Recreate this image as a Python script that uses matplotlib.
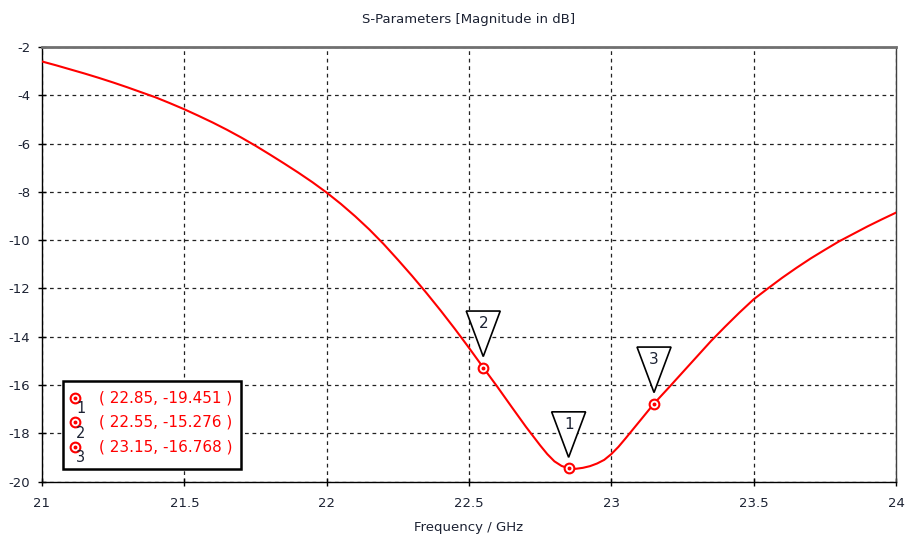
import numpy as np
import matplotlib
matplotlib.use("Agg")
import matplotlib.pyplot as plt
import matplotlib.transforms as mtransforms
from matplotlib.patches import Polygon, Rectangle

# S11 magnitude (dB); 50 MHz steps, 25 MHz around the dip
freq_ghz = [21.00, 21.05, 21.10, 21.15, 21.20, 21.25, 21.30, 21.35, 21.40, 21.45,
            21.50, 21.55, 21.60, 21.65, 21.70, 21.75, 21.80, 21.85, 21.90, 21.95,
            22.00, 22.05, 22.10, 22.15, 22.20, 22.25, 22.30, 22.35, 22.40, 22.45,
            22.50, 22.55, 22.60, 22.65, 22.70, 22.75, 22.775, 22.80, 22.825, 22.85,
            22.875, 22.90, 22.925, 22.95, 22.975, 23.00, 23.025, 23.05, 23.10, 23.15,
            23.20, 23.25, 23.30, 23.35, 23.40, 23.45, 23.50, 23.55, 23.60, 23.65,
            23.70, 23.75, 23.80, 23.85, 23.90, 23.95, 24.00]
s11_db = [-2.60, -2.76, -2.93, -3.10, -3.28, -3.47, -3.67, -3.88, -4.09, -4.33,
          -4.58, -4.85, -5.13, -5.43, -5.75, -6.09, -6.45, -6.82, -7.20, -7.60,
          -8.03, -8.50, -9.01, -9.56, -10.16, -10.81, -11.48, -12.18, -12.91, -13.67,
          -14.46, -15.276, -16.08, -16.91, -17.73, -18.50, -18.86, -19.16, -19.35, -19.451,
          -19.47, -19.43, -19.36, -19.25, -19.10, -18.86, -18.56, -18.21, -17.49, -16.768,
          -16.13, -15.48, -14.83, -14.18, -13.58, -13.00, -12.45, -12.00, -11.56, -11.15,
          -10.76, -10.40, -10.05, -9.74, -9.43, -9.14, -8.86]

# markers
mark_id = [1, 2, 3]
mark_f = [22.85, 22.55, 23.15]
mark_db = [-19.451, -15.276, -16.768]

xticks = [21, 21.5, 22, 22.5, 23, 23.5, 24]
yticks = [-20, -18, -16, -14, -12, -10, -8, -6, -4, -2]

RED = "#ff0000"
TXT = "#1c2233"

plt.rcParams["font.family"] = ["DejaVu Sans"]
plt.rcParams["axes.unicode_minus"] = False

W, H = 906, 542
fig = plt.figure(figsize=(W / 100, H / 100), dpi=100)
L, R, T, B = 42, 896, 47, 481.6
ax = fig.add_axes([L / W, 1 - B / H, (R - L) / W, (B - T) / H])


def px2ax(px, py):
    return (px - L) / (R - L), (B - py) / (B - T)


ax.plot(freq_ghz, s11_db, color=RED, lw=1.5, zorder=3)
ax.set_xlim(21, 24)
ax.set_ylim(-20, -2)
ax.set_xticks(xticks)
ax.set_xticklabels([f"{t:g}" for t in xticks])
ax.set_yticks(yticks)
ax.grid(True, color="#222222", ls=(0, (3, 3)), lw=0.9)
ax.tick_params(direction="inout", length=6, width=1, labelsize=9.5, colors="black",
               labelcolor=TXT, pad=8)
ax.tick_params(axis="y", pad=5.5)
for s in ["left", "bottom"]:
    ax.spines[s].set_color("black")
    ax.spines[s].set_linewidth(1)
ax.spines["top"].set_color("#707070")
ax.spines["top"].set_linewidth(2)
ax.spines["right"].set_color("#404040")
ax.spines["right"].set_linewidth(1)

ax.set_title("S-Parameters [Magnitude in dB]", fontsize=9.5, color=TXT, pad=17)
ax.set_xlabel("Frequency / GHz", fontsize=9.5, color=TXT, labelpad=8)

# marker symbols and triangle flags
for n, f, v in zip(mark_id, mark_f, mark_db):
    ax.plot(f, v, "o", ms=7, mfc="white", mec=RED, mew=1.5, zorder=5)
    ax.plot(f, v, "o", ms=1.8, mfc=RED, mec=RED, zorder=6)
    tr = fig.dpi_scale_trans + mtransforms.ScaledTranslation(f, v, ax.transData)
    tri = Polygon([(-0.17, 0.565), (0.17, 0.565), (0.0, 0.11)], closed=True,
                  fc="white", ec="black", lw=1.2, transform=tr, zorder=6,
                  clip_on=False)
    ax.add_patch(tri)
    ax.annotate(str(n), xy=(f, v), xytext=(0, 31.5), textcoords="offset points",
                ha="center", va="center", fontsize=11, color=TXT, zorder=7)

# marker readout box
x0, y0 = px2ax(63.3, 469)
x1, y1 = px2ax(241, 380.7)
ax.add_patch(Rectangle((x0, y0), x1 - x0, y1 - y0, transform=ax.transAxes,
                       fc="white", ec="black", lw=1.8, zorder=8))
rows = [397.7, 422.2, 446.7]
for n, f, v, ry in zip(mark_id, mark_f, mark_db, rows):
    mx, my = px2ax(75, ry)
    ax.plot(mx, my, "o", ms=7, mfc="white", mec=RED, mew=1.5,
            transform=ax.transAxes, zorder=9, clip_on=False)
    ax.plot(mx, my, "o", ms=1.8, mfc=RED, mec=RED,
            transform=ax.transAxes, zorder=10, clip_on=False)
    nx, ny = px2ax(80.7, ry + 11)
    ax.text(nx, ny, str(n), transform=ax.transAxes, ha="center", va="center",
            fontsize=10.5, color=TXT, zorder=10)
    tx, ty = px2ax(99, ry)
    ax.text(tx, ty, f"( {f:.2f}, {v:.3f} )", transform=ax.transAxes,
            ha="left", va="center", fontsize=11, color=RED, zorder=10)

fig.savefig("out.png", dpi=100)
